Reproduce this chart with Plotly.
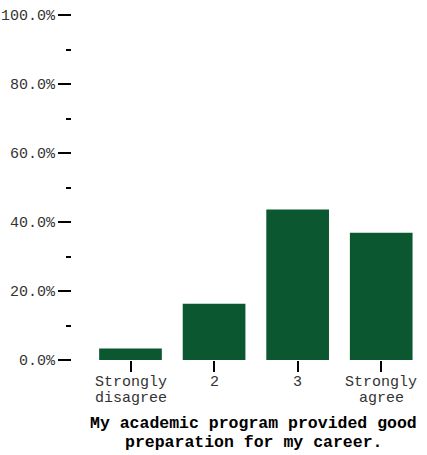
import plotly.graph_objects as go

categories = ["Strongly disagree", "2", "3", "Strongly agree"]
label_line1 = ["Strongly", "2", "3", "Strongly"]
label_line2 = ["disagree", "", "", "agree"]
values = [0.033, 0.163, 0.436, 0.369]
y_tickvals = [0, 0.2, 0.4, 0.6, 0.8, 1.0]
title_lines = ["My academic program provided good", "preparation for my career."]

BAR_COLOR = "#0b572f"
FONT = "Liberation Mono, Courier New, monospace"
LABEL_COLOR = "#333333"

x_idx = list(range(len(categories)))

fig = go.Figure(
    go.Bar(
        x=x_idx,
        y=values,
        width=0.75,
        marker=dict(color=BAR_COLOR, line=dict(width=0)),
        hoverinfo="skip",
    )
)

fig.update_layout(
    width=427,
    height=455,
    margin=dict(l=72, r=4, t=15, b=95),
    paper_bgcolor="white",
    plot_bgcolor="white",
    font=dict(family=FONT, size=15, color=LABEL_COLOR),
    showlegend=False,
)

# category labels (two tightly spaced lines, like the reference)
for xi, l1, l2 in zip(x_idx, label_line1, label_line2):
    for text, yy in ((l1, -0.0645), (l2, -0.1110)):
        if text:
            fig.add_annotation(
                text=text, xref="x", yref="paper", x=xi, y=yy,
                xanchor="center", yanchor="middle", showarrow=False,
                font=dict(family=FONT, size=15, color=LABEL_COLOR),
            )

# axis title as two centred lines
for i, line in enumerate(title_lines):
    fig.add_annotation(
        text=f"<b>{line}</b>",
        xref="paper", yref="paper",
        x=0.516, y=-0.1855 - i * 0.0522,
        xanchor="center", yanchor="middle",
        showarrow=False,
        font=dict(family=FONT, size=16.5, color="black"),
    )

fig.update_xaxes(
    range=[-0.7, 3.5],
    automargin=False,
    tickmode="array",
    tickvals=x_idx,
    showticklabels=False,
    ticks="outside",
    ticklen=11,
    tickwidth=2,
    tickcolor="black",
    showgrid=False,
    zeroline=False,
    showline=False,
)

fig.update_yaxes(
    range=[0, 1],
    automargin=False,
    tickmode="array",
    tickvals=y_tickvals,
    tickformat=".1%",
    ticks="outside",
    ticklen=13,
    tickwidth=2,
    tickcolor="black",
    minor=dict(dtick=0.1, ticks="outside", ticklen=5, tickwidth=2, tickcolor="black", showgrid=False),
    showgrid=False,
    zeroline=False,
    showline=False,
    tickfont=dict(family=FONT, size=15, color=LABEL_COLOR),
)

fig.write_html(
    "out.html",
    config={"displayModeBar": False},
    post_script="document.body.style.margin='0';document.body.style.overflow='hidden';",
)
